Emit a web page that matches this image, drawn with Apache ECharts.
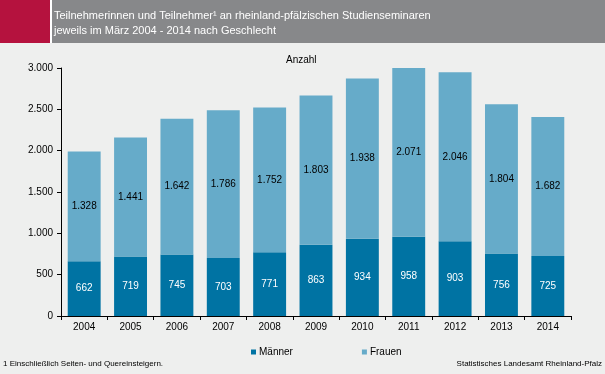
<!DOCTYPE html>
<html><head><meta charset="utf-8">
<script src="https://cdn.jsdelivr.net/npm/echarts@6/dist/echarts.min.js"></script>
<style>html,body{margin:0;padding:0;background:#eeefee;}#c{width:605px;height:374px;}</style>
</head><body><div id="c"></div>
<script>
const categories = ['2004','2005','2006','2007','2008','2009','2010','2011','2012','2013','2014'];
const maenner = [662,719,745,703,771,863,934,958,903,756,725];
const frauen = [1328,1441,1642,1786,1752,1803,1938,2071,2046,1804,1682];
const yTicks = [0,500,1000,1500,2000,2500,3000];
const titleLines = ['Teilnehmerinnen und Teilnehmer¹ an rheinland-pfälzischen Studienseminaren','jeweils im März 2004 - 2014 nach Geschlecht'];
const footLeft = '1 Einschließlich Seiten- und Quereinsteigern.';
const footRight = 'Statistisches Landesamt Rheinland-Pfalz';
const fmt = v => String(v).replace(/\B(?=(\d{3})+(?!\d))/g, '.');
const FONT = '"Liberation Sans", Arial, sans-serif';
const chart = echarts.init(document.getElementById('c'));
chart.setOption({
  backgroundColor: '#eeefee',
  animation: false,
  textStyle: {fontFamily: FONT},
  graphic: [
    {type:'rect', left:0, top:0, shape:{width:50, height:43}, style:{fill:'#b5123e'}},
    {type:'rect', left:50, top:0, shape:{width:2, height:43}, style:{fill:'#ffffff'}},
    {type:'rect', left:52, top:0, shape:{width:553, height:43}, style:{fill:'#87888a'}},
    {type:'text', left:54, top:8, style:{text:titleLines.join('\n'), fill:'#ffffff', font:'11px ' + FONT, lineHeight:15}},
    {type:'text', left:286, top:55, style:{text:'Anzahl', fill:'#000', font:'10px ' + FONT}},
    {type:'text', left:3, top:360, style:{text:footLeft, fill:'#000', font:'8px ' + FONT}},
    {type:'text', right:3, top:360, style:{text:footRight, fill:'#000', font:'8px ' + FONT}}
  ],
  legend: {
    data:['Männer','Frauen'], left:246, top:342, itemWidth:5, itemHeight:5, itemGap:69,
    icon:'rect', textStyle:{fontSize:10, color:'#000', fontFamily: FONT, padding:[0,0,0,-2]}
  },
  grid: {left:61, right:34, top:68, bottom:58},
  xAxis: {
    type:'category', data:categories,
    axisLine:{lineStyle:{color:'#000'}},
    axisTick:{show:true, length:4, lineStyle:{color:'#000'}},
    axisLabel:{color:'#000', fontSize:10, margin:6}
  },
  yAxis: {
    type:'value', min:yTicks[0], max:yTicks[yTicks.length-1], interval:yTicks[1]-yTicks[0],
    axisLine:{show:true, lineStyle:{color:'#000'}},
    axisTick:{show:true, length:4, lineStyle:{color:'#000'}},
    splitLine:{show:false},
    axisLabel:{color:'#000', fontSize:10, margin:8, formatter: v => fmt(v)}
  },
  series: [
    {name:'Männer', type:'bar', stack:'a', data:maenner, barCategoryGap:'29%', itemStyle:{color:'#0073a3'},
     label:{show:true, position:'inside', color:'#fff', fontSize:10, fontFamily: FONT, formatter:p => fmt(p.value)}},
    {name:'Frauen', type:'bar', stack:'a', data:frauen, barCategoryGap:'29%', itemStyle:{color:'#66abc9'},
     label:{show:true, position:'inside', color:'#000', fontSize:10, fontFamily: FONT, formatter:p => fmt(p.value)}}
  ]
});
</script></body></html>
